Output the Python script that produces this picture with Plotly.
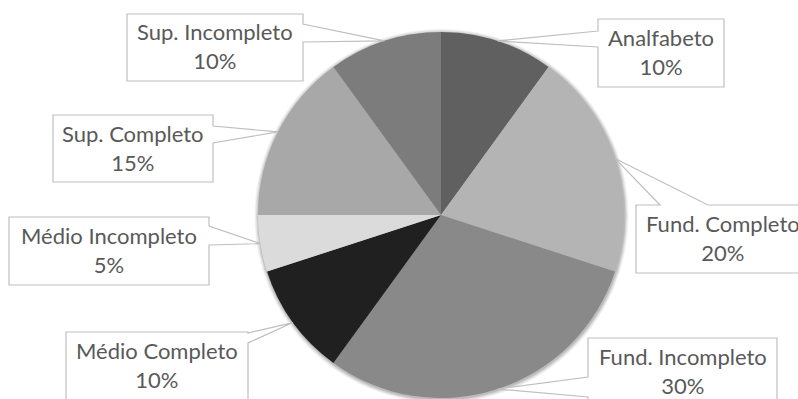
import math
import plotly.graph_objects as go

# ---- data ----
labels = ["Analfabeto", "Fund. Completo", "Fund. Incompleto", "Médio Completo",
          "Médio Incompleto", "Sup. Completo", "Sup. Incompleto"]
values = [10, 20, 30, 10, 5, 15, 10]
colors = ["#606060", "#b4b4b4", "#898989", "#202020", "#dbdbdb", "#a8a8a8", "#7c7c7c"]

# ---- layout (pixels) ----
W, H = 798, 399
CX, CY, R = 441, 215, 183

# callout boxes: (x0, y0, x1, y1), pointer side, pointer base range
callouts = {
    "Analfabeto":       ((598, 19, 724, 87),  "left",  (31, 47)),
    "Fund. Completo":   ((636, 205, 810, 273), "top",  (660, 708)),
    "Fund. Incompleto": ((588, 338, 777, 406), "left", (377, 397)),
    "Médio Completo":   ((66, 332, 248, 400),  "right", (333, 343)),
    "Médio Incompleto": ((9, 217, 209, 285),   "right", (226, 245)),
    "Sup. Completo":    ((53, 115, 213, 182),  "right", (126, 143)),
    "Sup. Incompleto":  ((127, 14, 303, 81),   "right", (24, 42)),
}

def px(x):
    return x / W

def py(y):
    return 1 - y / H

fig = go.Figure()

# soft shadow around the pie
shapes = []
for k, a in [(4, 0.05), (3, 0.06), (2, 0.08), (1, 0.10)]:
    shapes.append(dict(type="circle", xref="paper", yref="paper", layer="below",
                       x0=px(CX - R - k + 0.5), x1=px(CX + R + k + 0.5),
                       y0=py(CY + 1 + R + k), y1=py(CY + 1 - R - k),
                       fillcolor=f"rgba(0,0,0,{a})", line=dict(width=0)))

fig.add_trace(go.Pie(
    labels=labels, values=values, sort=False, direction="clockwise", rotation=0,
    marker=dict(colors=colors, line=dict(width=0)),
    textinfo="none", hoverinfo="label+percent", showlegend=False,
    domain=dict(x=[px(CX - R), px(CX + R)], y=[py(CY + R), py(CY - R)]),
))

# callouts: pointer tips at mid-angle of each slice on the rim
total = sum(values)
annotations = []
cum = 0
for lab, v in zip(labels, values):
    mid = (cum + v / 2) / total * 2 * math.pi
    cum += v
    tx = CX + R * math.sin(mid)
    ty = CY - R * math.cos(mid)
    (x0, y0, x1, y1), side, (b0, b1) = callouts[lab]
    if side == "top":
        pts = [(x0, y0), (b0, y0), (tx, ty), (b1, y0), (x1, y0), (x1, y1), (x0, y1)]
    elif side == "right":
        pts = [(x0, y0), (x1, y0), (x1, b0), (tx, ty), (x1, b1), (x1, y1), (x0, y1)]
    else:  # left
        pts = [(x0, y0), (x1, y0), (x1, y1), (x0, y1), (x0, b1), (tx, ty), (x0, b0)]
    path = "M " + " L ".join(f"{px(x):.5f},{py(y):.5f}" for x, y in pts) + " Z"
    shapes.append(dict(type="path", xref="paper", yref="paper", path=path,
                       fillcolor="white", line=dict(color="#bfbfbf", width=1.2)))
    pct = round(v / total * 100)
    annotations.append(dict(
        xref="paper", yref="paper", x=px((x0 + x1) / 2), y=py((y0 + y1) / 2 - 1),
        xanchor="center", yanchor="middle", showarrow=False,
        text=f"{lab}<br>{pct}%", align="center",
        font=dict(family="Lato, 'Open Sans', sans-serif", size=22, color="#595959"),
    ))

fig.update_layout(
    width=W, height=H, autosize=False,
    margin=dict(l=0, r=0, t=0, b=0),
    paper_bgcolor="white", plot_bgcolor="white",
    shapes=shapes, annotations=annotations,
)

fig.write_html("out.html")
